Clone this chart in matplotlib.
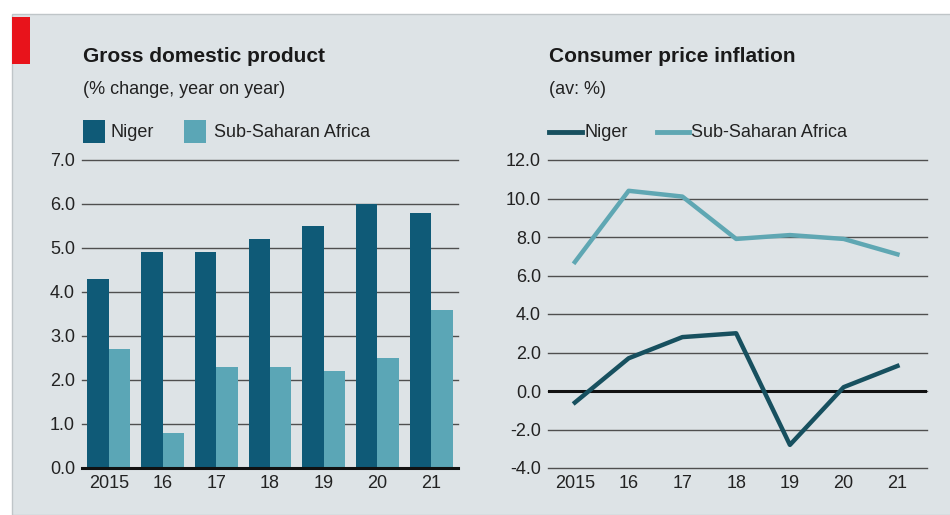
import numpy as np
import matplotlib.pyplot as plt
from matplotlib.patches import Rectangle
from matplotlib.lines import Line2D

years = ['2015', '16', '17', '18', '19', '20', '21']
gdp_niger = [4.3, 4.9, 4.9, 5.2, 5.5, 6.0, 5.8]
gdp_ssa = [2.7, 0.8, 2.3, 2.3, 2.2, 2.5, 3.6]
cpi_niger = [-0.6, 1.7, 2.8, 3.0, -2.8, 0.2, 1.3]
cpi_ssa = [6.7, 10.4, 10.1, 7.9, 8.1, 7.9, 7.1]
gdp_ticks = [0, 1, 2, 3, 4, 5, 6, 7]
cpi_ticks = [-4, -2, 0, 2, 4, 6, 8, 10, 12]

bg = '#dde3e6'
dark_bar = '#0f5a77'
light_bar = '#5ba6b6'
dark_line = '#17505f'
light_line = '#5fa7b3'
grid_col = '#4f4f4f'
txt = '#222222'

plt.rcParams['font.family'] = ['Liberation Sans Narrow', 'Liberation Sans', 'DejaVu Sans']

fig = plt.figure(figsize=(9.5, 5.15), dpi=100)
fig.patch.set_facecolor('white')

def fx(px):
    return px / 950

def fy(py):
    return 1 - py / 515

# panel background and red tag
fig.patches.append(Rectangle((fx(12), 0), 1, 1 - 14 / 515, transform=fig.transFigure,
                             facecolor=bg, edgecolor='#bfc5c8', lw=1, zorder=-10))
fig.patches.append(Rectangle((fx(12), fy(64)), 18 / 950, 47 / 515,
                             transform=fig.transFigure, facecolor='#e8131b', zorder=-5))

def style_axes(ax, ticks, fmt):
    ax.set_facecolor('none')
    for s in ax.spines.values():
        s.set_visible(False)
    ax.set_yticks(ticks)
    ax.set_yticklabels([fmt % t for t in ticks])
    ax.tick_params(axis='y', length=0, pad=5, labelsize=13, labelcolor=txt)
    ax.tick_params(axis='x', length=0, pad=5, labelsize=13, labelcolor=txt)
    for t in ticks:
        ax.axhline(t, color=grid_col, lw=1.0, zorder=1, clip_on=False)

x = np.arange(len(years))

# GDP bars
ax1 = fig.add_axes([fx(82), fy(468), 376 / 950, 308 / 515])
w = 0.4
ax1.bar(x - w / 2, gdp_niger, w, color=dark_bar, zorder=2)
ax1.bar(x + w / 2, gdp_ssa, w, color=light_bar, zorder=2)
style_axes(ax1, gdp_ticks, '%.1f')
ax1.axhline(0, color='#111111', lw=2.2, zorder=3, clip_on=False)
ax1.set_ylim(0, 7)
ax1.set_xlim(-0.5, 6.5)
ax1.set_xticks(x)
ax1.set_xticklabels(years)

# CPI lines
ax2 = fig.add_axes([fx(548), fy(468), 379 / 950, 308 / 515])
ax2.plot(x, cpi_ssa, color=light_line, lw=3.2, zorder=3)
ax2.plot(x, cpi_niger, color=dark_line, lw=3.2, zorder=3)
style_axes(ax2, cpi_ticks, '%.1f')
ax2.axhline(0, color='#111111', lw=2.2, zorder=2)
ax2.set_ylim(-4, 12)
ax2.set_xlim(-0.5, 6.55)
ax2.set_xticks(x)
ax2.set_xticklabels(years)

# titles
fig.text(fx(83), fy(56), 'Gross domestic product', fontsize=15, fontweight='bold',
         color='#1a1a1a', va='center')
fig.text(fx(83), fy(89), '(% change, year on year)', fontsize=13, color=txt, va='center')
fig.text(fx(549), fy(56), 'Consumer price inflation', fontsize=15, fontweight='bold',
         color='#1a1a1a', va='center')
fig.text(fx(549), fy(89), '(av: %)', fontsize=13, color=txt, va='center')

# legends
fig.patches.append(Rectangle((fx(83), fy(143)), 22 / 950, 23 / 515,
                             transform=fig.transFigure, facecolor=dark_bar))
fig.text(fx(110), fy(132), 'Niger', fontsize=13, color=txt, va='center')
fig.patches.append(Rectangle((fx(184), fy(143)), 22 / 950, 23 / 515,
                             transform=fig.transFigure, facecolor=light_bar))
fig.text(fx(214), fy(132), 'Sub-Saharan Africa', fontsize=13, color=txt, va='center')

fig.lines.append(Line2D([fx(549), fx(582)], [fy(132), fy(132)], transform=fig.transFigure,
                        color=dark_line, lw=3.5))
fig.text(fx(584), fy(132), 'Niger', fontsize=13, color=txt, va='center')
fig.lines.append(Line2D([fx(657), fx(689)], [fy(132), fy(132)], transform=fig.transFigure,
                        color=light_line, lw=3.5))
fig.text(fx(691), fy(132), 'Sub-Saharan Africa', fontsize=13, color=txt, va='center')

fig.savefig('out.png', dpi=100, facecolor=fig.get_facecolor())
